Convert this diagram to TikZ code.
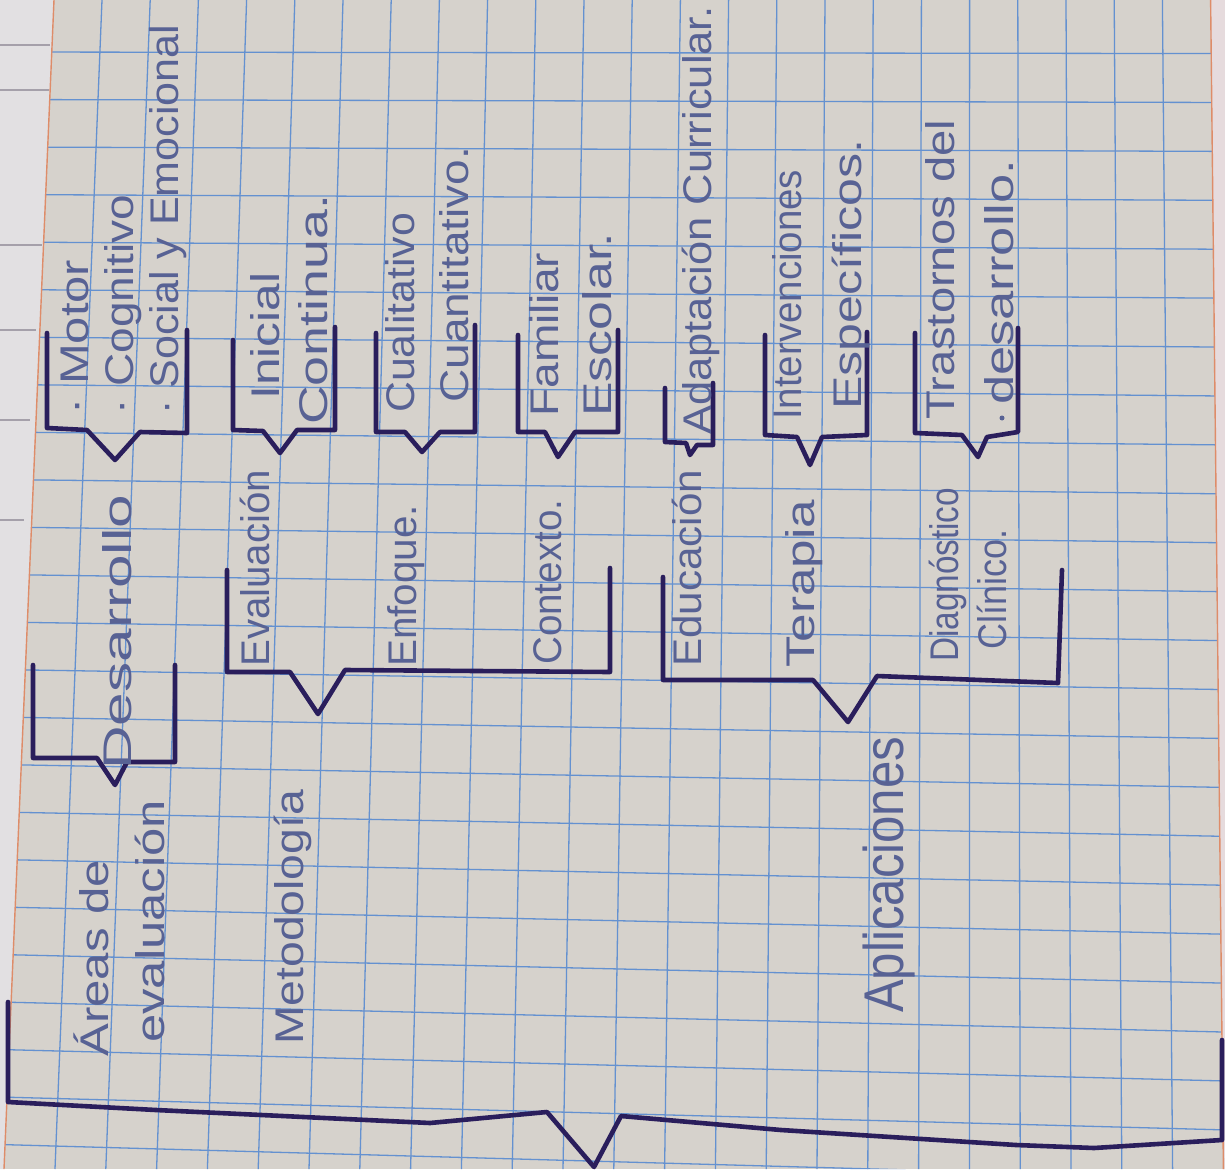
\documentclass[tikz,border=0pt]{standalone}
\usepackage{fontspec}
\setmainfont{Liberation Sans}
\usepackage{graphicx}
\definecolor{paper}{RGB}{214,210,204}
\definecolor{gridc}{RGB}{100,145,208}
\definecolor{inkc}{RGB}{42,30,92}
\definecolor{txtc}{RGB}{88,98,148}
\definecolor{edgec}{RGB}{222,140,105}
\definecolor{sidec}{RGB}{226,224,226}
\definecolor{sidelinec}{RGB}{165,160,170}
\newcommand{\hw}[2]{\resizebox{#1pt}{\height}{#2}}
\begin{document}
\begin{tikzpicture}[x=1pt,y=-1pt,
  gridline/.style={draw=gridc, line width=1.3pt},
  bracketline/.style={draw=inkc, line width=4.6pt, line join=round, line cap=round},
  tx/.style={rotate=90, anchor=base west, inner sep=0pt, text=txtc, font=\fontsize{40}{40}\selectfont},
  bigtx/.style={tx, font=\fontsize{56}{56}\selectfont}]
\useasboundingbox (0,0) rectangle (1225,1169);
\fill[paper] (0,0) rectangle (1225,1169);
% side pages
\fill[sidec] (0,0) -- (54,0) -- (4,1169) -- (0,1169) -- cycle;
\fill[sidec!85!pink] (1210.6,0) -- (1225,0) -- (1225,1169) -- (1223.4,1169) -- cycle;
\draw[sidelinec, line width=1.2pt] (0,45) -- (50,45) (0,90) -- (49,90) (0,245) -- (42,245) (0,330) -- (36,330) (0,420) -- (30,420) (0,520) -- (24,520);
% grid
\begin{scope}
\clip (54,0) -- (1210.6,0) -- (1223.4,1169) -- (4,1169) -- cycle;
\foreach \k in {0,...,22} \draw[gridline] ({102+48.2*\k},0) -- ({55+50.8*\k},1169);
\foreach \j in {0,...,23} \draw[gridline] (0,{52+47.5*\j}) -- (1225,{(52+47.5*\j)*1.03});
\end{scope}
\draw[edgec, line width=1.4pt] (54,0) -- (4,1169) (1210.6,0) -- (1223.4,1169);
% brackets
\draw[bracketline] (33,665) -- (33,758) -- (97,758) -- (115,785) -- (127,762) -- (175,762) -- (175,665);
\draw[bracketline] (47,333) -- (47,428) -- (87,430) -- (115,460) -- (140,432) -- (187,433) -- (187,330);
\draw[bracketline] (227,570) -- (227,672) -- (290,672) -- (318,714) -- (345,670) -- (610,672) -- (610,568);
\draw[bracketline] (233,340) -- (233,430) -- (263,431) -- (280,453) -- (297,430) -- (335,430) -- (335,327);
\draw[bracketline] (376,333) -- (376,432) -- (405,432) -- (422,452) -- (440,432) -- (475,432) -- (475,325);
\draw[bracketline] (518,335) -- (518,432) -- (545,432) -- (558,457) -- (575,432) -- (618,432) -- (618,330);
\draw[bracketline] (663,577) -- (663,680) -- (813,680) -- (848,722) -- (877,676) -- (1058,683) -- (1062,570);
\draw[bracketline] (665,388) -- (665,442) -- (686,443) -- (690,455) -- (697,445) -- (713,445) -- (713,383);
\draw[bracketline] (765,335) -- (765,435) -- (797,437) -- (810,465) -- (822,437) -- (867,435) -- (867,332);
\draw[bracketline] (915,333) -- (915,433) -- (962,435) -- (978,457) -- (987,437) -- (1018,432) -- (1018,328);
\draw[bracketline] (8,1002) -- (8,1102) -- (156,1110) -- (430,1123) -- (547,1112) -- (594,1167) -- (621,1116) -- (781,1130) -- (1016,1145) -- (1094,1148) -- (1222,1140) -- (1222,1040);
% texts
\node[tx] (areas) at (108,1057) {\hw{197}{Áreas de}};
\node[tx] (evalua) at (164,1043) {\hw{243}{evaluación}};
\node[tx] (desa) at (131,770) {\hw{275}{Desarrollo}};
\node[tx] (motor) at (88,415) {\hw{155}{· Motor}};
\node[tx] (cogn) at (133,415) {\hw{220}{· Cognitivo}};
\node[tx] (social) at (178,415) {\hw{390}{· Social y Emocional}};
\node[tx] (meto) at (303,1045) {\hw{255}{Metodología}};
\node[tx] (evaluacion) at (269,667) {\hw{197}{Evaluación}};
\node[tx] (inicial) at (279,400) {\hw{127}{Inicial}};
\node[tx] (continua) at (327,425) {\hw{230}{Continua.}};
\node[tx] (enfoque) at (416,667) {\hw{162}{Enfoque.}};
\node[tx] (cuali) at (414,413) {\hw{200}{Cualitativo}};
\node[tx] (cuanti) at (468,403) {\hw{256}{Cuantitativo.}};
\node[tx] (contexto) at (561,665) {\hw{165}{Contexto.}};
\node[tx] (familiar) at (558,417) {\hw{164}{Familiar}};
\node[tx] (escolar) at (611,417) {\hw{184}{Escolar.}};
\node[bigtx] (aplic) at (903,1013) {\hw{276}{Aplicaciones}};
\node[tx] (educ) at (701,667) {\hw{197}{Educación}};
\node[tx] (adapt) at (711,435) {\hw{428}{Adaptación Curricular.}};
\node[tx] (terapia) at (814,668) {\hw{168}{Terapia}};
\node[tx] (interv) at (801,420) {\hw{250}{Intervenciones}};
\node[tx] (especif) at (861,410) {\hw{270}{Específicos.}};
\node[tx] (diag) at (958,662) {\hw{174}{Diagnóstico}};
\node[tx] (clinico) at (1006,650) {\hw{120}{Clínico.}};
\node[tx] (trast) at (954,420) {\hw{300}{Trastornos del}};
\node[tx] (desarr) at (1013,405) {\hw{245}{desarrollo.}};
\fill[txtc] (1002,418) circle (2.5pt);
\end{tikzpicture}
\end{document}
